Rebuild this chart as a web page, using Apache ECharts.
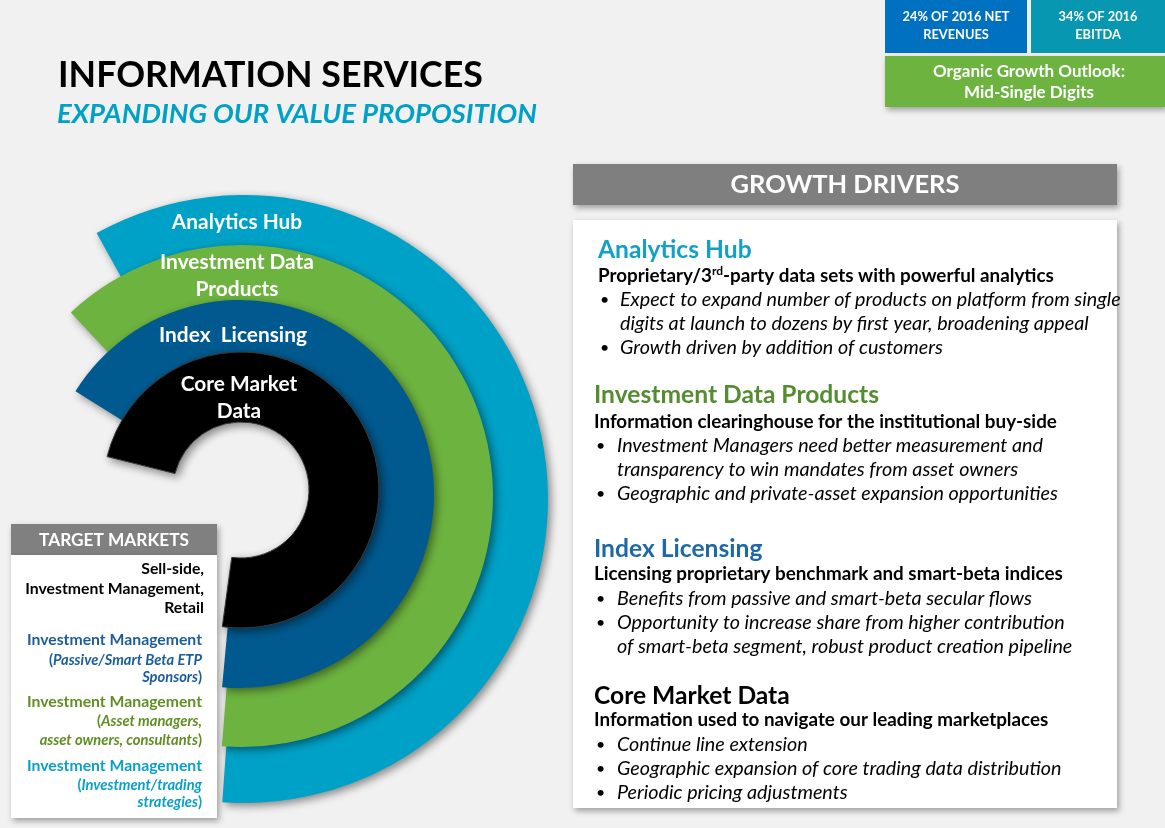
<!DOCTYPE html>
<html><head><meta charset="utf-8">
<script src="https://cdn.jsdelivr.net/npm/echarts@6/dist/echarts.min.js"></script>
<style>html,body{margin:0;padding:0;background:#f1f1f1;overflow:hidden}#c{width:1165px;height:828px}</style>
</head><body><div id="c"></div>
<script>
// ---------- DATA ----------
const titleText = 'INFORMATION SERVICES';
const subtitleText = 'EXPANDING OUR VALUE PROPOSITION';
const kpiBoxLines = [['24% OF 2016 NET', 'REVENUES'], ['34% OF 2016', 'EBITDA']];
const outlookLines = ['Organic Growth Outlook:', 'Mid-Single Digits'];
const panelTitle = 'GROWTH DRIVERS';
const targetTitle = 'TARGET MARKETS';

// rings (outer to inner); angles in degrees (3 o'clock = 0, counter-clockwise positive)
const ringNames = ['Analytics Hub', 'Investment Data Products', 'Index Licensing', 'Core Market Data'];
const ringStartAngles = [119, 133, 148, 166];
const ringEndAngles = [-94.1, -94.6, -95.3, -97.8];
const ringLabelLines = [['Analytics Hub'], ['Investment Data', 'Products'], ['Index  Licensing'], ['Core Market', 'Data']];

const driverHeadings = ['Analytics Hub', 'Investment Data Products', 'Index Licensing', 'Core Market Data'];
const driverSubheads = [
  'Proprietary/3rd-party data sets with powerful analytics',
  'Information clearinghouse for the institutional buy-side',
  'Licensing proprietary benchmark and smart-beta indices',
  'Information used to navigate our leading marketplaces'
];
const driverBullets = [
  [['Expect to expand number of products on platform from single', 'digits at launch to dozens by first year, broadening appeal'], ['Growth driven by addition of customers']],
  [['Investment Managers need better measurement and', 'transparency to win mandates from asset owners'], ['Geographic and private-asset expansion opportunities']],
  [['Benefits from passive and smart-beta secular flows'], ['Opportunity to increase share from higher contribution', 'of smart-beta segment, robust product creation pipeline']],
  [['Continue line extension'], ['Geographic expansion of core trading data distribution'], ['Periodic pricing adjustments']]
];
const targetMain = [['Sell-side,', 'Investment Management,', 'Retail'], ['Investment Management'], ['Investment Management'], ['Investment Management']];
const targetSub = [[], ['Passive/Smart Beta ETP', 'Sponsors'], ['Asset managers,', 'asset owners, consultants'], ['Investment/trading', 'strategies']];

// ---------- STYLE / LAYOUT ----------
const FAM = 'Lato';
const C = { bg: '#f1f1f1', cyan: '#00a1c6', green: '#6db33f', blue: '#005a8f', black: '#000000', kpi1: '#0070c0', kpi2: '#0897b0', gray: '#7f7f7f' };
const ringColors = [C.cyan, C.green, C.blue, C.black];
const ringGeom = [
  { center: [244, 499], radius: [246, 304] },
  { center: [242, 496], radius: [190, 251] },
  { center: [240, 494], radius: [134, 194] },
  { center: [241, 490], radius: [68, 138] }
];
const ringLabelPos = [[[237, 222]], [[237, 262], [237, 289]], [[233, 335]], [[239, 384], [239, 411]]];
const headColors = ['#13a0c8', '#548c30', '#1d68a6', '#000000'];
const tmColors = ['#000000', '#1b5d9b', '#5f8f22', '#0aa0c8'];

const cv = document.createElement('canvas').getContext('2d');
function fit(t, style, weight, w) { cv.font = style + ' ' + weight + ' 100px ' + FAM; return +(100 * w / cv.measureText(t).width).toFixed(2); }
function font(size, bold, italic) { return (italic ? 'italic ' : 'normal ') + (bold ? 'bold ' : 'normal ') + size + 'px ' + FAM; }

const S = {
  title: fit(titleText, 'normal', 'bold', 425),
  sub: fit(subtitleText, 'italic', 'bold', 480),
  kpi: fit('24% OF 2016 NET', 'normal', 'bold', 107),
  outlook: fit('Organic Growth Outlook:', 'normal', 'bold', 192),
  panelTitle: fit(panelTitle, 'normal', 'bold', 229),
  head: fit('Investment Data Products', 'normal', 'bold', 285),
  subhead: fit('Information clearinghouse for the institutional buy-side', 'normal', 'bold', 463),
  bullet: fit('Investment Managers need better measurement and', 'italic', 'normal', 426),
  tmTitle: fit(targetTitle, 'normal', 'bold', 150),
  tm: fit('Investment Management,', 'normal', 'bold', 179),
  tmSub: fit('(Passive/Smart Beta ETP', 'italic', 'bold', 153),
  ring: fit('Investment Data', 'normal', 'bold', 154)
};

const g = [];
function rect(x, y, w, h, fill, shadow, z) {
  const st = { fill: fill };
  if (shadow) Object.assign(st, { shadowBlur: 6, shadowOffsetX: 2, shadowOffsetY: 3, shadowColor: 'rgba(0,0,0,0.35)' });
  g.push({ type: 'rect', z: z || 1, silent: true, shape: { x: x, y: y, width: w, height: h }, style: st });
}
function text(t, x, y, f, fill, align, rich) {
  const st = { text: t, x: x, y: y, font: f, fill: fill, textAlign: align || 'left', textVerticalAlign: 'middle' };
  if (rich) st.rich = rich;
  g.push({ type: 'text', z: 100, silent: true, style: st });
}

// title
text(titleText, 58, 75, font(S.title, true), '#000');
text(subtitleText, 57, 114, font(S.sub, true, true), C.cyan);

// KPI boxes
rect(885, 0, 142, 53, C.kpi1, false);
rect(1031, 0, 134, 53, C.kpi2, false);
rect(885, 56, 280, 51, C.green, true);
const kpiCx = [956, 1098];
kpiBoxLines.forEach((ls, i) => ls.forEach((l, j) => text(l, kpiCx[i], 17 + j * 18, font(S.kpi, true), '#fff', 'center')));
outlookLines.forEach((l, j) => text(l, 1029, 72 + j * 21, font(S.outlook, true), '#fff', 'center'));

// growth drivers panel
rect(573, 164, 544, 41, C.gray, true);
text(panelTitle, 845, 185, font(S.panelTitle, true), '#fff', 'center');
rect(573, 220, 544, 588, '#ffffff', true);
const headX = [598, 594, 594, 594];
const headY = [250, 395, 549, 696];
const subY = [276, 422, 574, 720];
const bulletY0 = [300, 446, 599, 745];
const bulletDotX = [600, 596, 596, 596];
const bulletTextX = [620, 617, 617, 617];
driverHeadings.forEach((h, i) => {
  text(h, headX[i], headY[i], font(S.head, true), headColors[i]);
  const sh = driverSubheads[i];
  const m = sh.match(/^(.*\d)(rd|st|nd|th)(-.*)$/);
  if (m) {
    text('{b|' + m[1] + '}{s|' + m[2] + '}{b|' + m[3] + '}', headX[i], subY[i], font(S.subhead, true), '#000', 'left', {
      b: { font: font(S.subhead, true), fill: '#000', lineHeight: 22 },
      s: { font: font(Math.round(S.subhead * 0.62), true), fill: '#000', verticalAlign: 'top', lineHeight: 14 }
    });
  } else text(sh, headX[i], subY[i], font(S.subhead, true), '#000');
  let k = 0;
  driverBullets[i].forEach(b => {
    text('•', bulletDotX[i], bulletY0[i] + k * 24, font(Math.round(S.bullet * 0.8), false), '#000');
    b.forEach(line => { text(line, bulletTextX[i], bulletY0[i] + k * 24, font(S.bullet, false, true), '#000'); k++; });
  });
});

// target markets
rect(11, 524, 206, 31, '#808080', true);
text(targetTitle, 114, 540, font(S.tmTitle, true), '#fff', 'center');
rect(11, 555, 206, 263, '#ffffff', true);
const tmMainY = [[569, 589, 608], [640], [702], [766]];
const tmSubY = [[], [660, 677], [721, 740], [785, 802]];
const tmRight = [204, 202, 202, 202];
targetMain.forEach((ls, i) => {
  ls.forEach((l, j) => text(l, tmRight[i], tmMainY[i][j], font(S.tm, true), tmColors[i], 'right'));
  const subs = targetSub[i];
  subs.forEach((l, j) => {
    const t = (j === 0 ? '{p|(}' : '') + '{i|' + l + '}' + (j === subs.length - 1 ? '{p|)}' : '');
    text(t, tmRight[i], tmSubY[i][j], font(S.tmSub, true, true), tmColors[i], 'right', {
      p: { font: font(S.tmSub, true, false), fill: tmColors[i] },
      i: { font: font(S.tmSub, true, true), fill: tmColors[i] }
    });
  });
});

// ring labels
ringLabelLines.forEach((ls, i) => ls.forEach((l, j) => text(l, ringLabelPos[i][j][0], ringLabelPos[i][j][1], font(S.ring, true), '#fff', 'center')));

// ring series (pie arcs)
const series = ringNames.map((name, i) => {
  const sweep = ringStartAngles[i] - ringEndAngles[i];
  return {
    type: 'pie', name: name, silent: true, clockwise: true,
    center: ringGeom[i].center, radius: ringGeom[i].radius,
    startAngle: ringStartAngles[i], minAngle: 0, avoidLabelOverlap: false,
    label: { show: false }, labelLine: { show: false }, emphasis: { disabled: true },
    z: 2 + i,
    data: [
      { name: name, value: sweep, itemStyle: { color: ringColors[i], borderWidth: i === 3 ? 1 : 0, borderColor: '#3a3a3a', shadowBlur: 8, shadowOffsetX: 3, shadowOffsetY: 3, shadowColor: 'rgba(0,0,0,0.45)' } },
      { name: '', value: 360 - sweep, itemStyle: { color: 'rgba(0,0,0,0)', borderWidth: 0 } }
    ]
  };
});

const chart = echarts.init(document.getElementById('c'), null, { renderer: 'canvas' });
chart.setOption({
  backgroundColor: C.bg,
  animation: false,
  series: series,
  graphic: { elements: g }
});
</script>
</body></html>
